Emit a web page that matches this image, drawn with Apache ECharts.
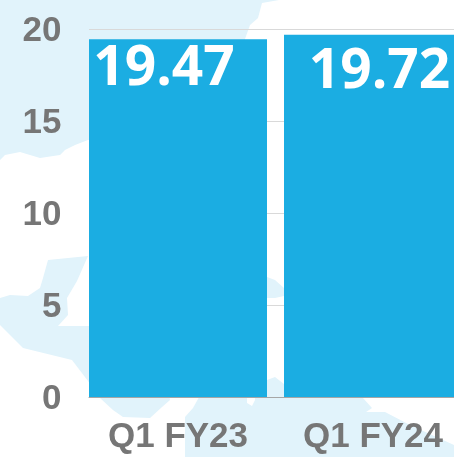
<!DOCTYPE html>
<html>
<head>
<meta charset="utf-8">
<style>
	html, body { margin: 0; padding: 0; background: #fff; overflow: hidden; }
	#chart { width: 454px; height: 457px; }
</style>
<script src="https://cdn.jsdelivr.net/npm/echarts@6/dist/echarts.min.js"></script>
</head>
<body>
<div id="chart"></div>
<script>
var categories = ['Q1 FY23', 'Q1 FY24'];
var values = [19.47, 19.72];
var yMin = 0, yMax = 20, yStep = 5;

// faint map behind the chart, outlines traced by eye
var mapShapes = [
	[[0,0],[279,0],[262,3],[258,18],[250,25],[245,39],[240,100],[200,135],[88,140],[75,145],[65,150],[60,155],[40,158],[20,152],[5,155],[0,160]],
	[[88,256],[48,260],[43,278],[40,288],[28,296],[10,295],[0,298],[0,325],[23,348],[72,360],[88,381],[100,398],[113,410],[123,417],[150,418],[162,407],[170,400],[160,330],[88,326],[58,326],[68,315],[67,298],[77,281]],
	[[203,390],[193,408],[185,417],[185,457],[454,457],[454,445],[410,425],[385,412],[366,412],[372,408],[362,397],[362,390],[255,390],[255,400],[252,406],[247,403],[247,390]],
	[[267,277],[275,280],[284,288],[284,296],[275,298],[267,298]],
	[[267,380],[275,377],[284,384],[284,397],[267,397]]
];

var labelOffsets = [[-14, 3], [6.5, 10]];
var barData = [];
for (var i = 0; i < values.length; i++) {
	barData.push({ value: values[i], label: { offset: labelOffsets[i] } });
}

var graphics = [];
for (var j = 0; j < mapShapes.length; j++) {
	graphics.push({
		type: 'polygon',
		silent: true,
		z: -1,
		shape: { points: mapShapes[j] },
		style: { fill: '#e1f3fb' }
	});
}

var option = {
	animation: false,
	backgroundColor: '#fff',
	graphic: graphics,
	grid: [
		{ left: 80.5, top: 29.5, width: 390, height: 367.5, outerBoundsMode: 'none' },
		{ left: 89, top: 29.5, width: 365, height: 367.5, outerBoundsMode: 'none' } // 只画网格线
	],
	xAxis: [{
		type: 'category',
		gridIndex: 0,
		data: categories,
		axisLine: { show: false },
		axisTick: { show: false },
		axisLabel: {
			margin: 23,
			color: '#767676',
			fontFamily: 'Liberation Sans',
			fontWeight: 'bold',
			fontSize: 35
		}
	}, {
		type: 'value',
		gridIndex: 1,
		min: 0,
		max: 1,
		axisLabel: { show: false },
		axisTick: { show: false },
		splitLine: { show: false },
		axisLine: { show: true, onZero: false, lineStyle: { color: '#a6a6a6', width: 1 } }
	}],
	yAxis: [{
		type: 'value',
		gridIndex: 0,
		min: yMin,
		max: yMax,
		interval: yStep,
		axisLine: { show: false },
		axisTick: { show: false },
		splitLine: { show: false },
		axisLabel: {
			margin: 19,
			verticalAlign: 'top',
			lineHeight: 4,
			color: '#767676',
			fontFamily: 'Liberation Sans',
			fontWeight: 'bold',
			fontSize: 35
		}
	}, {
		type: 'value',
		gridIndex: 1,
		min: yMin,
		max: yMax,
		interval: yStep,
		axisLine: { show: false },
		axisTick: { show: false },
		axisLabel: { show: false },
		splitLine: { show: true, lineStyle: { color: '#d9d9d9', width: 1 } }
	}],
	series: [{
		type: 'bar',
		xAxisIndex: 0,
		yAxisIndex: 0,
		data: barData,
		barWidth: 178,
		itemStyle: { color: '#1badE2' },
		label: {
			show: true,
			position: 'insideTop',
			distance: 0,
			color: '#fff',
			fontFamily: 'Open Sans',
			fontWeight: 'bold',
			fontSize: 55
		}
	}]
};

var myChart = echarts.init(document.getElementById('chart'));
myChart.setOption(option);
</script>
</body>
</html>
